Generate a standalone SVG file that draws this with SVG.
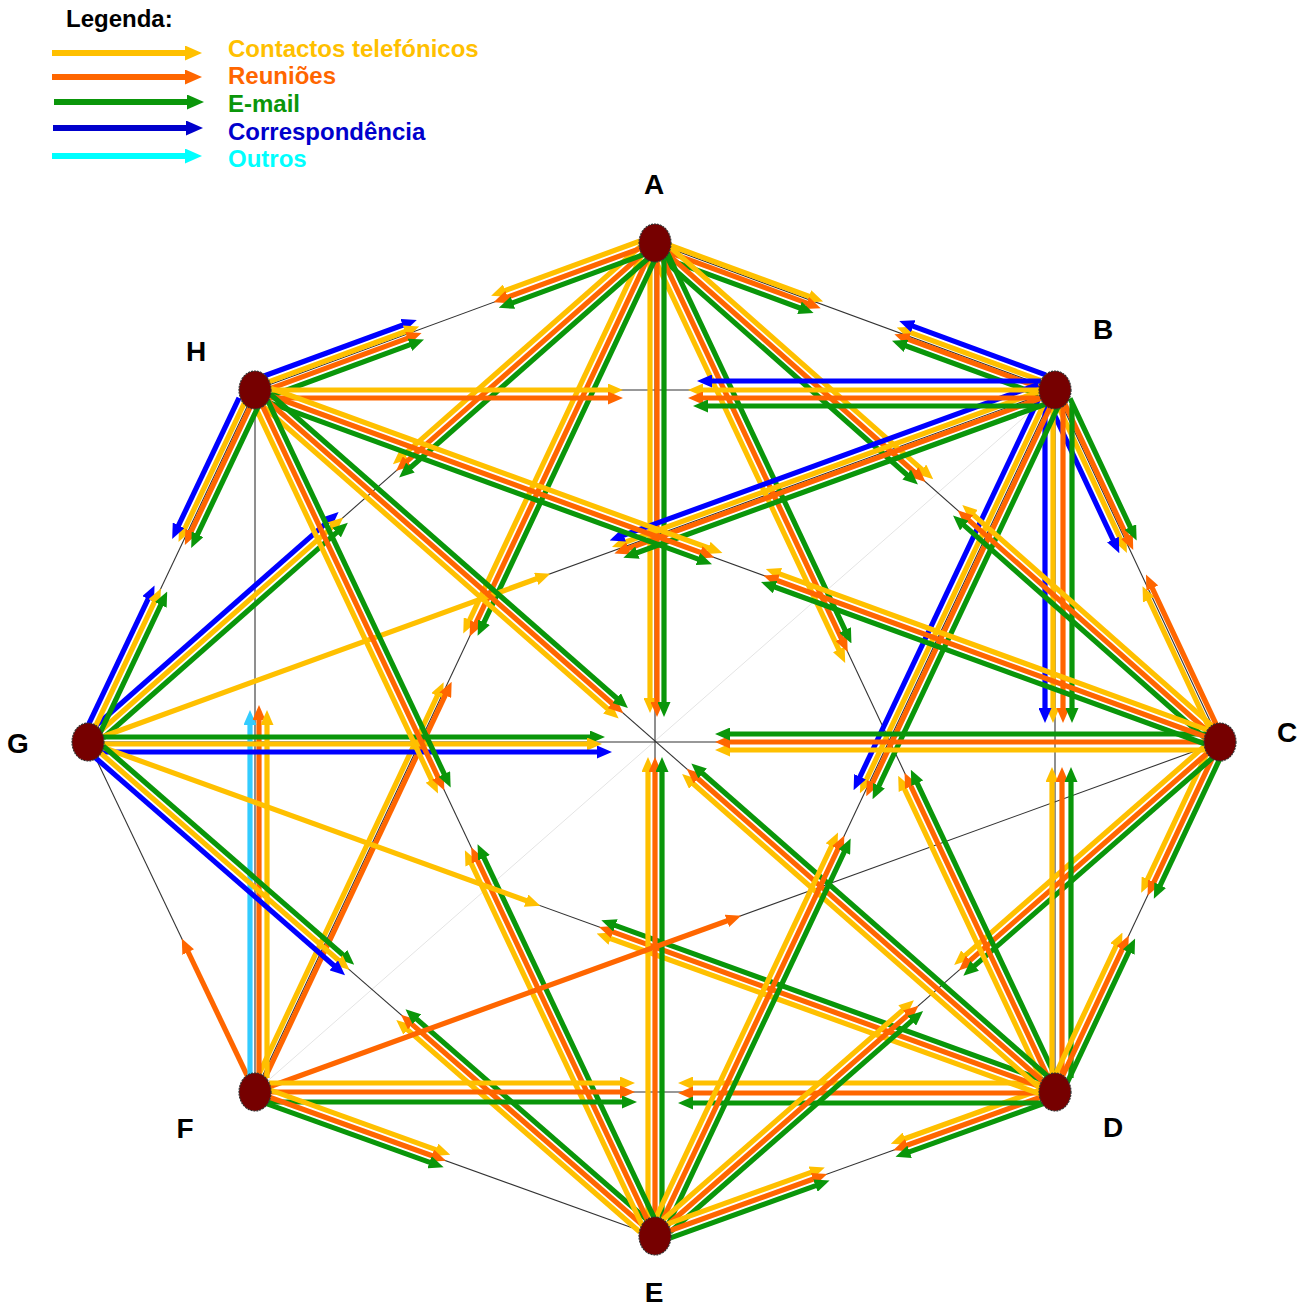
<svg xmlns="http://www.w3.org/2000/svg" width="1308" height="1306" viewBox="0 0 1308 1306">
<defs>
<style>
.e{stroke:#333;stroke-width:1.1;fill:none}
.ef{stroke:#e4e4e4;stroke-width:1;fill:none}
line.y,line.o,line.g,line.b,line.c{stroke-width:5.2;fill:none}
.y{stroke:#ffc000;marker-end:url(#aY)}
.o{stroke:#ff6600;marker-end:url(#aO)}
.g{stroke:#0a960a;marker-end:url(#aG)}
.b{stroke:#0000ff;marker-end:url(#aB)}
.c{stroke:#33ccff;marker-end:url(#aC)}
.node{fill:#760000;stroke:#333;stroke-width:1.2;stroke-dasharray:2 1}
.lbl{font-family:"Liberation Sans",Arial,sans-serif;font-weight:bold;font-size:28px;fill:#000;text-anchor:middle}
.lt{font-family:"Liberation Sans",Arial,sans-serif;font-weight:bold;font-size:24px}
</style>
<marker id="aY" markerUnits="userSpaceOnUse" markerWidth="15" markerHeight="13" refX="4" refY="6.5" orient="auto" viewBox="0 0 15 13"><path d="M0,0 L15,6.5 L0,13 z" fill="#ffc000"/></marker>
<marker id="aO" markerUnits="userSpaceOnUse" markerWidth="15" markerHeight="13" refX="4" refY="6.5" orient="auto" viewBox="0 0 15 13"><path d="M0,0 L15,6.5 L0,13 z" fill="#ff6600"/></marker>
<marker id="aG" markerUnits="userSpaceOnUse" markerWidth="15" markerHeight="13" refX="4" refY="6.5" orient="auto" viewBox="0 0 15 13"><path d="M0,0 L15,6.5 L0,13 z" fill="#0a960a"/></marker>
<marker id="aB" markerUnits="userSpaceOnUse" markerWidth="15" markerHeight="13" refX="4" refY="6.5" orient="auto" viewBox="0 0 15 13"><path d="M0,0 L15,6.5 L0,13 z" fill="#0000ff"/></marker>
<marker id="aC" markerUnits="userSpaceOnUse" markerWidth="15" markerHeight="13" refX="4" refY="6.5" orient="auto" viewBox="0 0 15 13"><path d="M0,0 L15,6.5 L0,13 z" fill="#33ccff"/></marker>
<marker id="lY" markerUnits="userSpaceOnUse" markerWidth="17" markerHeight="15" refX="3" refY="7.5" orient="auto" viewBox="0 0 17 15"><path d="M0,0 L17,7.5 L0,15 z" fill="#ffc000"/></marker>
<marker id="lO" markerUnits="userSpaceOnUse" markerWidth="17" markerHeight="15" refX="3" refY="7.5" orient="auto" viewBox="0 0 17 15"><path d="M0,0 L17,7.5 L0,15 z" fill="#ff6600"/></marker>
<marker id="lG" markerUnits="userSpaceOnUse" markerWidth="17" markerHeight="15" refX="3" refY="7.5" orient="auto" viewBox="0 0 17 15"><path d="M0,0 L17,7.5 L0,15 z" fill="#0a960a"/></marker>
<marker id="lB" markerUnits="userSpaceOnUse" markerWidth="17" markerHeight="15" refX="3" refY="7.5" orient="auto" viewBox="0 0 17 15"><path d="M0,0 L17,7.5 L0,15 z" fill="#0000cc"/></marker>
<marker id="lC" markerUnits="userSpaceOnUse" markerWidth="17" markerHeight="15" refX="3" refY="7.5" orient="auto" viewBox="0 0 17 15"><path d="M0,0 L17,7.5 L0,15 z" fill="#00ffff"/></marker>
</defs>
<rect width="1308" height="1306" fill="#fff"/>

<g id="legend" class="lt">
<text x="66" y="27" fill="#000">Legenda:</text>
<line x1="52" y1="53" x2="188" y2="53" stroke="#ffc000" stroke-width="6" marker-end="url(#lY)"/>
<line x1="52" y1="77" x2="188" y2="77" stroke="#ff6600" stroke-width="6" marker-end="url(#lO)"/>
<line x1="54" y1="102" x2="190" y2="102" stroke="#0a960a" stroke-width="6" marker-end="url(#lG)"/>
<line x1="53" y1="128" x2="189" y2="128" stroke="#0000cc" stroke-width="6" marker-end="url(#lB)"/>
<line x1="52" y1="156" x2="188" y2="156" stroke="#00ffff" stroke-width="6" marker-end="url(#lC)"/>
<text x="228" y="57" fill="#ffc000">Contactos telefónicos</text>
<text x="228" y="84" fill="#ff6600">Reuniões</text>
<text x="228" y="112" fill="#0a960a">E-mail</text>
<text x="228" y="140" fill="#0000cc">Correspondência</text>
<text x="228" y="167" fill="#00ffff">Outros</text>
</g>

<g id="edges">
<line class="ef" x1="1055" y1="390" x2="255" y2="1092"/>
<line class="e" x1="655" y1="243" x2="1055" y2="390"/>
<line class="e" x1="655" y1="243" x2="1220" y2="742"/>
<line class="e" x1="655" y1="243" x2="1055" y2="1092"/>
<line class="e" x1="655" y1="243" x2="655" y2="1236"/>
<line class="e" x1="655" y1="243" x2="255" y2="1092"/>
<line class="e" x1="655" y1="243" x2="88" y2="742"/>
<line class="e" x1="655" y1="243" x2="255" y2="390"/>
<line class="e" x1="1055" y1="390" x2="1220" y2="742"/>
<line class="e" x1="1055" y1="390" x2="1055" y2="1092"/>
<line class="e" x1="1055" y1="390" x2="655" y2="1236"/>
<line class="e" x1="1055" y1="390" x2="88" y2="742"/>
<line class="e" x1="1055" y1="390" x2="255" y2="390"/>
<line class="e" x1="1220" y1="742" x2="1055" y2="1092"/>
<line class="e" x1="1220" y1="742" x2="655" y2="1236"/>
<line class="e" x1="1220" y1="742" x2="255" y2="1092"/>
<line class="e" x1="1220" y1="742" x2="88" y2="742"/>
<line class="e" x1="1220" y1="742" x2="255" y2="390"/>
<line class="e" x1="1055" y1="1092" x2="655" y2="1236"/>
<line class="e" x1="1055" y1="1092" x2="255" y2="1092"/>
<line class="e" x1="1055" y1="1092" x2="88" y2="742"/>
<line class="e" x1="1055" y1="1092" x2="255" y2="390"/>
<line class="e" x1="655" y1="1236" x2="255" y2="1092"/>
<line class="e" x1="655" y1="1236" x2="88" y2="742"/>
<line class="e" x1="655" y1="1236" x2="255" y2="390"/>
<line class="e" x1="255" y1="1092" x2="88" y2="742"/>
<line class="e" x1="255" y1="1092" x2="255" y2="390"/>
<line class="e" x1="88" y1="742" x2="255" y2="390"/>
</g>

<g id="connectors">
<!-- from A -->
<g transform="translate(655,243) rotate(20.18)"><line class="y" x1="14" y1="-3" x2="167" y2="-3"/><line class="o" x1="14" y1="4" x2="167" y2="4"/><line class="g" x1="14" y1="11" x2="162" y2="11"/></g>
<g transform="translate(655,243) rotate(41.45)"><line class="y" x1="14" y1="-7" x2="354" y2="-7"/><line class="o" x1="14" y1="0" x2="350" y2="0"/><line class="g" x1="14" y1="7" x2="346" y2="7"/></g>
<g transform="translate(655,243) rotate(64.77)"><line class="y" x1="14" y1="7" x2="450" y2="7"/><line class="o" x1="14" y1="0" x2="441" y2="0"/><line class="g" x1="14" y1="-7" x2="435" y2="-7"/></g>
<g transform="translate(655,243) rotate(90)"><line class="y" x1="14" y1="5" x2="459" y2="5"/><line class="o" x1="14" y1="-2" x2="463" y2="-2"/><line class="g" x1="14" y1="-9" x2="463" y2="-9"/></g>
<g transform="translate(655,243) rotate(115.23)"><line class="y" x1="14" y1="7" x2="424" y2="7"/><line class="o" x1="14" y1="0" x2="424" y2="0"/><line class="g" x1="14" y1="-7" x2="420" y2="-7"/></g>
<g transform="translate(655,243) rotate(138.65)"><line class="y" x1="14" y1="7" x2="332" y2="7"/><line class="o" x1="14" y1="0" x2="334" y2="0"/><line class="g" x1="14" y1="-7" x2="336" y2="-7"/></g>
<g transform="translate(655,243) rotate(159.82)"><line class="y" x1="14" y1="7" x2="161" y2="7"/><line class="o" x1="14" y1="0" x2="161" y2="0"/><line class="g" x1="14" y1="-7" x2="158" y2="-7"/></g>
<!-- from B -->
<g transform="translate(1055,390) rotate(200.18)"><line class="y" x1="14" y1="4" x2="159" y2="4"/><line class="o" x1="14" y1="-3" x2="159" y2="-3"/><line class="g" x1="14" y1="-10" x2="159" y2="-10"/><line class="b" x1="14" y1="11" x2="159" y2="11"/></g>
<g transform="translate(1055,390) rotate(64.89)"><line class="y" x1="14" y1="4" x2="167" y2="4"/><line class="o" x1="14" y1="-3" x2="167" y2="-3"/><line class="g" x1="14" y1="-10" x2="160" y2="-10"/><line class="b" x1="14" y1="11" x2="164" y2="11"/></g>
<g transform="translate(1055,390) rotate(90)"><line class="y" x1="14" y1="2" x2="322" y2="2"/><line class="o" x1="14" y1="-8" x2="322" y2="-8"/><line class="g" x1="14" y1="-17" x2="322" y2="-17"/><line class="b" x1="14" y1="10" x2="322" y2="10"/></g>
<g transform="translate(1055,390) rotate(115.30)"><line class="y" x1="14" y1="4" x2="437" y2="4"/><line class="o" x1="14" y1="-3" x2="437" y2="-3"/><line class="g" x1="14" y1="-10" x2="437" y2="-10"/><line class="b" x1="14" y1="11" x2="437" y2="11"/></g>
<g transform="translate(1055,390) rotate(160)"><line class="y" x1="14" y1="4" x2="459" y2="4"/><line class="o" x1="14" y1="-3" x2="459" y2="-3"/><line class="g" x1="14" y1="-10" x2="452" y2="-10"/><line class="b" x1="14" y1="11" x2="459" y2="11"/></g>
<g transform="translate(1055,390) rotate(180)"><line class="y" x1="14" y1="0" x2="356" y2="0"/><line class="o" x1="14" y1="-8" x2="356" y2="-8"/><line class="g" x1="14" y1="-16" x2="351" y2="-16"/><line class="b" x1="14" y1="9" x2="347" y2="9"/></g>
<!-- from C -->
<g transform="translate(1220,742) rotate(221.45)"><line class="y" x1="14" y1="7" x2="339" y2="7"/><line class="o" x1="14" y1="0" x2="339" y2="0"/><line class="g" x1="14" y1="-7" x2="339" y2="-7"/></g>
<g transform="translate(1220,742) rotate(244.89)"><line class="y" x1="14" y1="-4" x2="163" y2="-4"/><line class="o" x1="14" y1="4" x2="172" y2="4"/></g>
<g transform="translate(1220,742) rotate(115.24)"><line class="y" x1="14" y1="7" x2="159" y2="7"/><line class="o" x1="14" y1="0" x2="159" y2="0"/><line class="g" x1="14" y1="-7" x2="159" y2="-7"/></g>
<g transform="translate(1220,742) rotate(138.84)"><line class="y" x1="14" y1="7" x2="336" y2="7"/><line class="o" x1="14" y1="0" x2="336" y2="0"/><line class="g" x1="14" y1="-7" x2="336" y2="-7"/></g>
<g transform="translate(1220,742) rotate(180)"><line class="y" x1="14" y1="-8" x2="494" y2="-8"/><line class="o" x1="14" y1="0" x2="494" y2="0"/><line class="g" x1="14" y1="8" x2="494" y2="8"/></g>
<g transform="translate(1220,742) rotate(200.04)"><line class="y" x1="14" y1="7" x2="475" y2="7"/><line class="o" x1="14" y1="0" x2="475" y2="0"/><line class="g" x1="14" y1="-7" x2="475" y2="-7"/></g>
<!-- from D -->
<g transform="translate(1055,1092) rotate(244.77)"><line class="y" x1="14" y1="-7" x2="342" y2="-7"/><line class="o" x1="14" y1="0" x2="342" y2="0"/><line class="g" x1="14" y1="7" x2="342" y2="7"/></g>
<g transform="translate(1055,1092) rotate(-90)"><line class="y" x1="14" y1="-3" x2="314" y2="-3"/><line class="o" x1="14" y1="7" x2="314" y2="7"/><line class="g" x1="14" y1="16" x2="314" y2="16"/></g>
<g transform="translate(1055,1092) rotate(-64.76)"><line class="y" x1="14" y1="-7" x2="162" y2="-7"/><line class="o" x1="14" y1="0" x2="162" y2="0"/><line class="g" x1="14" y1="7" x2="162" y2="7"/></g>
<g transform="translate(1055,1092) rotate(160.20)"><line class="y" x1="14" y1="7" x2="161" y2="7"/><line class="o" x1="14" y1="0" x2="161" y2="0"/><line class="g" x1="14" y1="-7" x2="161" y2="-7"/></g>
<g transform="translate(1055,1092) rotate(180)"><line class="y" x1="14" y1="9" x2="366" y2="9"/><line class="o" x1="14" y1="-1" x2="366" y2="-1"/><line class="g" x1="14" y1="-11" x2="366" y2="-11"/></g>
<g transform="translate(1055,1092) rotate(199.9)"><line class="y" x1="14" y1="-7" x2="474" y2="-7"/><line class="o" x1="14" y1="0" x2="474" y2="0"/><line class="g" x1="14" y1="7" x2="474" y2="7"/></g>
<g transform="translate(1055,1092) rotate(221.27)"><line class="y" x1="14" y1="-7" x2="479" y2="-7"/><line class="o" x1="14" y1="0" x2="479" y2="0"/><line class="g" x1="14" y1="7" x2="479" y2="7"/></g>
<!-- from E -->
<g transform="translate(655,1236) rotate(-90)"><line class="y" x1="14" y1="-7" x2="468" y2="-7"/><line class="o" x1="14" y1="0" x2="468" y2="0"/><line class="g" x1="14" y1="7" x2="468" y2="7"/></g>
<g transform="translate(655,1236) rotate(-64.70)"><line class="y" x1="14" y1="-7" x2="432" y2="-7"/><line class="o" x1="14" y1="0" x2="432" y2="0"/><line class="g" x1="14" y1="7" x2="432" y2="7"/></g>
<g transform="translate(655,1236) rotate(-41.16)"><line class="y" x1="14" y1="-7" x2="339" y2="-7"/><line class="o" x1="14" y1="0" x2="339" y2="0"/><line class="g" x1="14" y1="7" x2="339" y2="7"/></g>
<g transform="translate(655,1236) rotate(-19.80)"><line class="y" x1="14" y1="-7" x2="172" y2="-7"/><line class="o" x1="14" y1="0" x2="172" y2="0"/><line class="g" x1="14" y1="7" x2="172" y2="7"/></g>
<g transform="translate(655,1236) rotate(221.06)"><line class="y" x1="14" y1="-7" x2="326" y2="-7"/><line class="o" x1="14" y1="0" x2="326" y2="0"/><line class="g" x1="14" y1="7" x2="326" y2="7"/></g>
<g transform="translate(655,1236) rotate(244.70)"><line class="y" x1="14" y1="-7" x2="419" y2="-7"/><line class="o" x1="14" y1="0" x2="419" y2="0"/><line class="g" x1="14" y1="7" x2="419" y2="7"/></g>
<!-- from F -->
<g transform="translate(255,1092) rotate(-64.77)"><line class="y" x1="14" y1="-4" x2="440" y2="-4"/><line class="o" x1="14" y1="3" x2="444" y2="3"/></g>
<g transform="translate(255,1092) rotate(-19.93)"><line class="o" x1="14" y1="0" x2="506" y2="0"/></g>
<g transform="translate(255,1092) rotate(0)"><line class="y" x1="14" y1="-9" x2="369" y2="-9"/><line class="o" x1="14" y1="0" x2="369" y2="0"/><line class="g" x1="14" y1="10" x2="371" y2="10"/></g>
<g transform="translate(255,1092) rotate(19.80)"><line class="y" x1="14" y1="-7" x2="194" y2="-7"/><line class="o" x1="14" y1="0" x2="192" y2="0"/><line class="g" x1="14" y1="7" x2="192" y2="7"/></g>
<g transform="translate(255,1092) rotate(244.49)"><line class="o" x1="14" y1="0" x2="159" y2="0"/></g>
<g transform="translate(255,1092) rotate(-90)"><line class="c" x1="14" y1="-5" x2="371" y2="-5"/><line class="o" x1="14" y1="4" x2="376" y2="4"/><line class="y" x1="14" y1="12" x2="371" y2="12"/></g>
<!-- from G -->
<g transform="translate(88,742) rotate(-41.35)"><line class="b" x1="14" y1="-7" x2="329" y2="-7"/><line class="y" x1="14" y1="0" x2="329" y2="0"/><line class="g" x1="14" y1="7" x2="329" y2="7"/></g>
<g transform="translate(88,742) rotate(-20)"><line class="y" x1="14" y1="0" x2="481" y2="0"/></g>
<g transform="translate(88,742) rotate(0)"><line class="g" x1="14" y1="-5" x2="506" y2="-5"/><line class="y" x1="14" y1="2" x2="503" y2="2"/><line class="b" x1="14" y1="10" x2="513" y2="10"/></g>
<g transform="translate(88,742) rotate(19.9)"><line class="y" x1="14" y1="0" x2="470" y2="0"/></g>
<g transform="translate(88,742) rotate(41.06)"><line class="g" x1="14" y1="-7" x2="336" y2="-7"/><line class="y" x1="14" y1="0" x2="336" y2="0"/><line class="b" x1="14" y1="7" x2="336" y2="7"/></g>
<g transform="translate(88,742) rotate(-64.62)"><line class="b" x1="14" y1="-7" x2="159" y2="-7"/><line class="y" x1="14" y1="0" x2="159" y2="0"/><line class="g" x1="14" y1="7" x2="159" y2="7"/></g>
<!-- from H -->
<g transform="translate(255,390) rotate(-20.18)"><line class="b" x1="14" y1="-10" x2="165" y2="-10"/><line class="y" x1="14" y1="-3" x2="165" y2="-3"/><line class="o" x1="14" y1="4" x2="165" y2="4"/><line class="g" x1="14" y1="11" x2="165" y2="11"/></g>
<g transform="translate(255,390) rotate(0)"><line class="y" x1="14" y1="0" x2="357" y2="0"/><line class="o" x1="14" y1="8" x2="357" y2="8"/></g>
<g transform="translate(255,390) rotate(20.04)"><line class="y" x1="14" y1="-7" x2="484" y2="-7"/><line class="o" x1="14" y1="0" x2="478" y2="0"/><line class="g" x1="14" y1="7" x2="478" y2="7"/></g>
<g transform="translate(255,390) rotate(41.27)"><line class="y" x1="14" y1="7" x2="479" y2="7"/><line class="o" x1="14" y1="0" x2="479" y2="0"/><line class="g" x1="14" y1="-7" x2="479" y2="-7"/></g>
<g transform="translate(255,390) rotate(64.70)"><line class="y" x1="14" y1="7" x2="432" y2="7"/><line class="o" x1="14" y1="0" x2="432" y2="0"/><line class="g" x1="14" y1="-7" x2="432" y2="-7"/></g>
<g transform="translate(255,390) rotate(115.38)"><line class="y" x1="14" y1="4" x2="159" y2="4"/><line class="o" x1="14" y1="-3" x2="159" y2="-3"/><line class="g" x1="14" y1="-10" x2="159" y2="-10"/><line class="b" x1="14" y1="11" x2="159" y2="11"/></g>
</g>

<g id="node-A"><ellipse class="node" cx="655" cy="243" rx="16" ry="19"/><text class="lbl" x="654" y="194">A</text></g>
<g id="node-B"><ellipse class="node" cx="1055" cy="390" rx="16" ry="19"/><text class="lbl" x="1103" y="339">B</text></g>
<g id="node-C"><ellipse class="node" cx="1220" cy="742" rx="16" ry="19"/><text class="lbl" x="1287" y="742">C</text></g>
<g id="node-D"><ellipse class="node" cx="1055" cy="1092" rx="16" ry="19"/><text class="lbl" x="1113" y="1137">D</text></g>
<g id="node-E"><ellipse class="node" cx="655" cy="1236" rx="16" ry="19"/><text class="lbl" x="654" y="1302">E</text></g>
<g id="node-F"><ellipse class="node" cx="255" cy="1092" rx="16" ry="19"/><text class="lbl" x="185" y="1138">F</text></g>
<g id="node-G"><ellipse class="node" cx="88" cy="742" rx="16" ry="19"/><text class="lbl" x="18" y="753">G</text></g>
<g id="node-H"><ellipse class="node" cx="255" cy="390" rx="16" ry="19"/><text class="lbl" x="196" y="361">H</text></g>
</svg>
